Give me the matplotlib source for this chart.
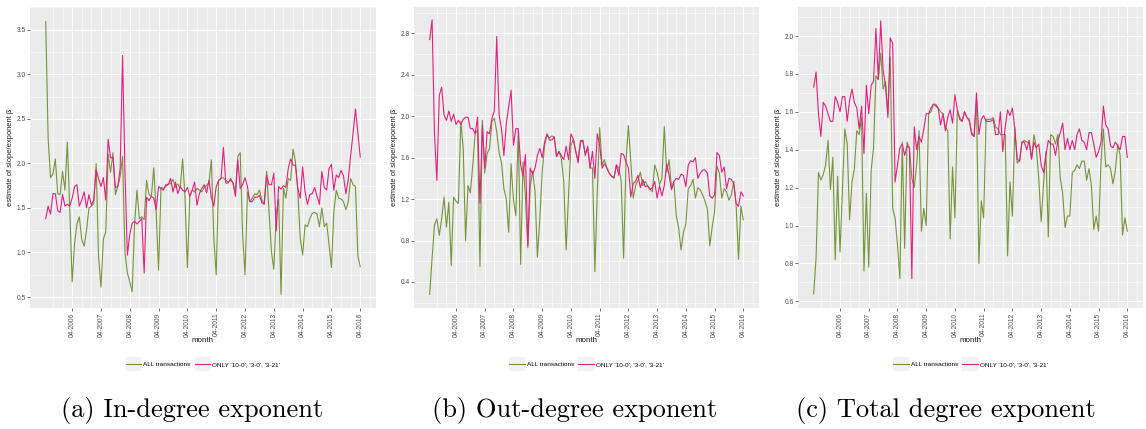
import matplotlib
matplotlib.use("Agg")
import matplotlib.pyplot as plt
from matplotlib.patches import Rectangle
from matplotlib.legend_handler import HandlerLine2D

OUT_FILE = "out.png"

GREEN = "#77933C"
PINK = "#E0217F"
PANEL_BG = "#EBEBEB"

# one value per month, 05-2005 .. 04-2016
months = list(range(132))
tick_pos = [11, 23, 35, 47, 59, 71, 83, 95, 107, 119, 131]
tick_labels = ["04-2006", "04-2007", "04-2008", "04-2009", "04-2010", "04-2011",
               "04-2012", "04-2013", "04-2014", "04-2015", "04-2016"]
series_names = ["ALL transactions", "ONLY '10-0', '3-0', '3-21'"]
captions = ["(a) In-degree exponent", "(b) Out-degree exponent", "(c) Total degree exponent"]

in_all = [3.59, 2.28, 1.84, 1.88, 2.05, 1.66, 1.65, 1.91, 1.70, 2.24, 1.50, 0.67,
          1.10, 1.32, 1.40, 1.15, 1.07, 1.25, 1.50, 1.52, 1.55, 2.00, 0.95, 0.61,
          1.15, 1.23, 2.10, 1.90, 2.12, 1.65, 1.74, 1.85, 2.08, 1.00, 0.77, 0.67,
          0.56, 1.32, 1.70, 1.38, 1.40, 1.37, 1.81, 1.65, 1.63, 1.95, 1.45, 0.80,
          1.73, 1.72, 1.74, 1.77, 1.77, 1.82, 1.73, 1.77, 1.72, 2.05, 1.62, 0.83,
          1.63, 1.70, 1.68, 1.72, 1.70, 1.68, 1.73, 1.75, 1.79, 2.04, 1.16, 0.75,
          1.81, 1.83, 1.84, 1.81, 1.79, 1.81, 1.78, 1.68, 2.08, 2.12, 1.20, 0.75,
          1.68, 1.57, 1.61, 1.66, 1.65, 1.70, 1.59, 1.55, 1.91, 1.46, 1.01, 0.81,
          1.44, 1.60, 0.53, 1.72, 1.61, 1.83, 1.81, 2.16, 2.02, 1.68, 1.16, 0.97,
          1.31, 1.29, 1.38, 1.44, 1.45, 1.43, 1.29, 1.50, 1.29, 1.33, 1.09, 0.83,
          1.46, 1.70, 1.61, 1.60, 1.57, 1.48, 1.57, 1.83, 1.76, 1.74, 0.96, 0.84]
in_only = [1.38, 1.52, 1.43, 1.66, 1.66, 1.47, 1.45, 1.65, 1.52, 1.54, 1.52, 1.61,
           1.74, 1.76, 1.52, 1.59, 1.68, 1.50, 1.65, 1.53, 1.59, 1.93, 1.83, 1.74,
           1.84, 1.59, 2.27, 2.06, 2.07, 1.73, 1.74, 1.94, 3.21, 1.90, 0.97, 1.20,
           1.33, 1.35, 1.32, 1.35, 1.38, 0.77, 1.62, 1.58, 1.63, 1.61, 1.48, 1.74,
           1.72, 1.70, 1.76, 1.76, 1.83, 1.68, 1.79, 1.66, 1.74, 1.70, 1.68, 1.73,
           1.63, 1.70, 1.79, 1.53, 1.66, 1.72, 1.76, 1.67, 1.81, 1.61, 1.52, 1.74,
           1.81, 1.83, 2.18, 1.78, 1.78, 1.83, 1.78, 1.63, 2.04, 1.72, 1.76, 1.84,
           1.74, 1.57, 1.57, 1.62, 1.62, 1.64, 1.56, 1.54, 1.87, 1.76, 1.76, 1.89,
           1.24, 1.74, 1.71, 1.75, 1.73, 1.94, 2.05, 1.98, 1.98, 1.72, 1.61, 1.96,
           1.68, 1.54, 1.65, 1.66, 1.73, 1.63, 1.54, 1.91, 1.73, 1.70, 1.94, 1.99,
           1.70, 1.87, 1.84, 1.92, 1.86, 1.66, 1.82, 2.09, 2.34, 2.61, 2.34, 2.07]

out_all = [0.28, 0.63, 0.95, 1.01, 0.85, 1.01, 1.22, 0.93, 1.17, 0.56, 1.22, 1.18,
           1.16, 1.95, 1.69, 0.80, 1.33, 1.26, 1.53, 1.83, 1.87, 0.55, 1.96, 1.45,
           1.64, 1.69, 1.95, 1.98, 1.85, 1.65, 1.55, 1.30, 1.20, 0.88, 1.54, 1.19,
           1.04, 1.87, 0.57, 1.56, 1.21, 0.73, 1.33, 1.47, 1.27, 0.64, 1.01, 1.46,
           1.72, 1.82, 1.79, 1.81, 1.80, 1.61, 1.66, 1.59, 1.37, 0.71, 1.24, 1.72,
           1.78, 1.66, 1.58, 1.77, 1.75, 1.64, 1.69, 1.50, 1.50, 0.50, 1.27, 1.89,
           1.53, 1.58, 1.50, 1.45, 1.42, 1.40, 1.53, 1.50, 1.37, 0.63, 1.56, 1.91,
           1.56, 1.21, 1.33, 1.38, 1.46, 1.33, 1.37, 1.33, 1.30, 1.27, 1.53, 1.46,
           1.34, 1.40, 1.90, 1.46, 1.58, 1.30, 1.37, 1.04, 0.92, 0.71, 0.88, 0.96,
           1.30, 1.33, 1.39, 1.21, 1.31, 1.29, 1.24, 1.18, 1.10, 0.75, 0.93, 1.08,
           1.52, 1.45, 1.21, 1.30, 1.27, 1.19, 1.24, 1.37, 1.14, 0.62, 1.13, 1.00]
out_only = [2.74, 2.93, 1.83, 1.38, 2.20, 2.28, 2.01, 1.96, 2.05, 1.95, 2.02, 1.92,
            1.96, 1.92, 1.97, 1.99, 1.99, 1.88, 1.88, 1.83, 1.99, 1.16, 1.91, 1.50,
            1.85, 1.83, 1.98, 2.05, 2.77, 2.01, 1.88, 1.62, 1.93, 2.09, 2.25, 1.72,
            1.88, 1.88, 1.53, 1.42, 1.63, 0.75, 1.50, 1.44, 1.50, 1.62, 1.69, 1.60,
            1.75, 1.83, 1.77, 1.77, 1.80, 1.61, 1.66, 1.62, 1.58, 1.71, 1.58, 1.83,
            1.78, 1.66, 1.55, 1.75, 1.77, 1.62, 1.71, 1.50, 1.66, 1.40, 1.83, 1.72,
            1.50, 1.54, 1.50, 1.45, 1.42, 1.41, 1.53, 1.43, 1.64, 1.63, 1.56, 1.50,
            1.22, 1.35, 1.37, 1.43, 1.31, 1.39, 1.32, 1.33, 1.29, 1.31, 1.37, 1.21,
            1.33, 1.23, 1.33, 1.54, 1.43, 1.29, 1.37, 1.40, 1.39, 1.44, 1.43, 1.32,
            1.53, 1.57, 1.56, 1.60, 1.40, 1.45, 1.48, 1.48, 1.45, 1.23, 1.21, 1.24,
            1.65, 1.62, 1.46, 1.51, 1.30, 1.40, 1.39, 1.35, 1.16, 1.13, 1.27, 1.23]

tot_all = [0.64, 0.83, 1.28, 1.24, 1.27, 1.32, 1.45, 1.19, 1.36, 0.82, 1.26, 0.86,
           1.19, 1.51, 1.43, 1.03, 1.23, 1.30, 1.50, 1.48, 1.57, 0.76, 1.17, 0.78,
           1.29, 1.41, 1.79, 1.77, 1.91, 1.72, 1.76, 1.59, 1.89, 1.09, 1.04, 0.90,
           0.72, 1.44, 0.88, 1.44, 1.41, 1.25, 1.20, 1.32, 1.50, 0.97, 1.09, 1.00,
           1.59, 1.60, 1.64, 1.64, 1.62, 1.60, 1.59, 1.52, 1.50, 0.93, 1.31, 1.04,
           1.61, 1.57, 1.55, 1.60, 1.57, 1.55, 1.49, 1.47, 1.66, 0.80, 1.13, 1.04,
           1.56, 1.56, 1.56, 1.57, 1.52, 1.51, 1.48, 1.48, 1.48, 0.84, 1.23, 1.05,
           1.52, 1.33, 1.34, 1.44, 1.45, 1.44, 1.44, 1.35, 1.48, 1.41, 1.25, 1.02,
           1.22, 1.39, 0.94, 1.48, 1.47, 1.43, 1.48, 1.25, 1.17, 0.99, 1.05, 1.05,
           1.28, 1.29, 1.32, 1.30, 1.34, 1.34, 1.24, 1.30, 1.21, 0.98, 1.05, 0.97,
           1.34, 1.51, 1.31, 1.32, 1.30, 1.22, 1.29, 1.43, 1.37, 0.95, 1.04, 0.97]
tot_only = [1.73, 1.81, 1.59, 1.47, 1.65, 1.63, 1.59, 1.55, 1.55, 1.68, 1.65, 1.60,
            1.68, 1.68, 1.55, 1.66, 1.72, 1.65, 1.62, 1.51, 1.63, 1.38, 1.74, 1.59,
            1.74, 1.76, 2.04, 1.77, 2.08, 1.82, 1.74, 1.57, 1.99, 1.96, 1.23, 1.32,
            1.41, 1.43, 1.37, 1.42, 1.41, 0.72, 1.52, 1.40, 1.47, 1.44, 1.51, 1.59,
            1.59, 1.62, 1.64, 1.63, 1.62, 1.53, 1.59, 1.50, 1.57, 1.61, 1.54, 1.69,
            1.61, 1.56, 1.55, 1.60, 1.57, 1.56, 1.48, 1.47, 1.70, 1.48, 1.56, 1.58,
            1.55, 1.55, 1.55, 1.56, 1.48, 1.48, 1.60, 1.39, 1.52, 1.61, 1.58, 1.62,
            1.51, 1.35, 1.34, 1.44, 1.44, 1.40, 1.45, 1.35, 1.44, 1.41, 1.43, 1.32,
            1.28, 1.37, 1.45, 1.43, 1.43, 1.37, 1.45, 1.49, 1.54, 1.40, 1.46, 1.40,
            1.45, 1.40, 1.48, 1.51, 1.45, 1.44, 1.40, 1.49, 1.49, 1.43, 1.36, 1.39,
            1.44, 1.63, 1.53, 1.51, 1.42, 1.41, 1.44, 1.42, 1.40, 1.47, 1.47, 1.36]

y_major = [[0.5, 1.0, 1.5, 2.0, 2.5, 3.0, 3.5],
           [0.4, 0.8, 1.2, 1.6, 2.0, 2.4, 2.8],
           [0.6, 0.8, 1.0, 1.2, 1.4, 1.6, 1.8, 2.0]]
y_minor = [[0.75, 1.25, 1.75, 2.25, 2.75, 3.25, 3.75],
           [0.2, 0.6, 1.0, 1.4, 1.8, 2.2, 2.6, 3.0],
           [0.7, 0.9, 1.1, 1.3, 1.5, 1.7, 1.9, 2.1]]
y_limits = [(0.377, 3.755), (0.149, 3.054), (0.565, 2.153)]
x_minor = [3, 7, 15, 19, 27, 31, 39, 43, 51, 55, 63, 67, 75, 79, 87, 91,
           99, 103, 111, 115, 123, 127, 135]

# panel boxes in pixels: left, right (top 7, bottom 308)
PANEL_X = [(30, 376), (414, 759), (798, 1143)]
CAPTION_X = [192, 575, 946]
W, H = 1146, 429
TOP, BOTTOM = 7, 308


class KeyHandler(HandlerLine2D):
    # ggplot-like grey key box behind the legend line
    def create_artists(self, legend, orig_handle, xdescent, ydescent, width, height, fontsize, trans):
        arts = super().create_artists(legend, orig_handle, xdescent, ydescent, width, height, fontsize, trans)
        cy = height / 2 - ydescent
        bg = Rectangle((-xdescent, cy - 1.5 * height), width, 3 * height,
                       facecolor="#F2F2F2", edgecolor="none", transform=trans)
        return [bg] + list(arts)


def make_panel(fig, k, all_vals, only_vals):
    x0, x1 = PANEL_X[k]
    ax = fig.add_axes([x0 / W, 1 - BOTTOM / H, (x1 - x0) / W, (BOTTOM - TOP) / H])
    ax.set_facecolor(PANEL_BG)
    for s in ax.spines.values():
        s.set_visible(False)

    ax.set_xlim(-6.55, 137.55)
    ax.set_ylim(*y_limits[k])
    ax.set_xticks(tick_pos)
    ax.set_xticklabels(tick_labels, rotation=90, va="top", ha="center")
    ax.set_xticks(x_minor, minor=True)
    ax.set_yticks(y_major[k])
    ax.set_yticks(y_minor[k], minor=True)
    ax.grid(which="major", color="white", lw=0.85)
    ax.grid(which="minor", color="white", lw=0.4)
    ax.set_axisbelow(True)
    ax.tick_params(which="major", length=2, width=0.5, color="#333333", pad=1.2,
                   labelsize=4.8, labelcolor="#4D4D4D")
    ax.tick_params(which="minor", length=0)

    l1, = ax.plot(months, all_vals, color=GREEN, lw=0.8)
    l2, = ax.plot(months, only_vals, color=PINK, lw=0.8)

    ax.set_xlabel("month", fontsize=5.8, color="#1A1A1A")
    ax.xaxis.set_label_coords(0.5, (BOTTOM - 337) / (BOTTOM - TOP))
    ax.set_ylabel("estimate of slope/exponent \u03b2", fontsize=5.4, color="#1A1A1A")
    ax.yaxis.set_label_coords(-16 / (x1 - x0), 0.5)

    ax.legend([l1, l2], series_names, loc="center", ncol=2, frameon=False,
              bbox_to_anchor=(0.5, (BOTTOM - 364.5) / (BOTTOM - TOP)),
              fontsize=4.6, handlelength=2.4, handletextpad=0.35, columnspacing=0.6,
              handler_map={l1: KeyHandler(), l2: KeyHandler()})

    fig.text(CAPTION_X[k] / W, 1 - 411 / H, captions[k], family="cmr10",
             fontsize=19, ha="center", va="center")
    return ax


def main():
    plt.rcParams["font.family"] = ["Liberation Sans", "DejaVu Sans"]
    fig = plt.figure(figsize=(W / 100, H / 100), dpi=100)
    make_panel(fig, 0, in_all, in_only)
    make_panel(fig, 1, out_all, out_only)
    make_panel(fig, 2, tot_all, tot_only)
    fig.savefig(OUT_FILE, dpi=100)


if __name__ == "__main__":
    main()
